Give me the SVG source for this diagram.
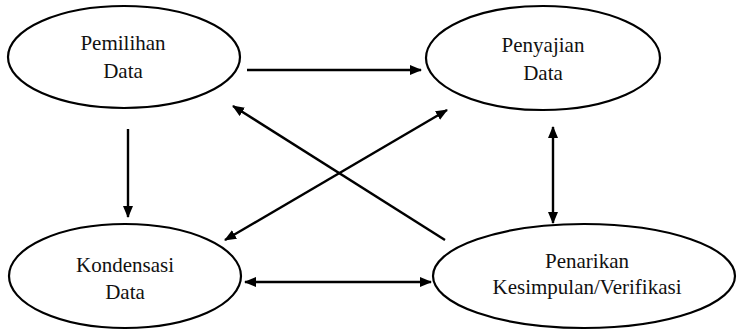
<svg xmlns="http://www.w3.org/2000/svg" width="737" height="331" viewBox="0 0 737 331">
<style>
.node ellipse{fill:#fff;stroke:#000;stroke-width:2.2}
.node text{font-size:21px;fill:#111;text-anchor:middle}
.conn line{stroke:#000;stroke-width:2.4;fill:none}
</style>
<defs>
<marker id="ah" viewBox="0 0 12 10" markerWidth="12" markerHeight="10" refX="11" refY="5" orient="auto-start-reverse" markerUnits="userSpaceOnUse">
<path d="M0,0 L12,5 L0,10 z" fill="#000"/>
</marker>
</defs>
<rect width="737" height="331" fill="#fff"/>
<g font-family="Liberation Serif, Times New Roman, serif">
<g id="pemilihan" class="node">
<ellipse cx="124" cy="57" rx="116" ry="51"/>
<text x="123" y="50">Pemilihan</text>
<text x="123" y="78">Data</text>
</g>
<g id="penyajian" class="node">
<ellipse cx="543" cy="58" rx="117" ry="52"/>
<text x="543" y="52">Penyajian</text>
<text x="543" y="80">Data</text>
</g>
<g id="kondensasi" class="node">
<ellipse cx="125" cy="276" rx="116" ry="52"/>
<text x="125" y="272">Kondensasi</text>
<text x="125" y="299">Data</text>
</g>
<g id="penarikan" class="node">
<ellipse cx="584" cy="276" rx="151" ry="52"/>
<text x="587" y="268">Penarikan</text>
<text x="587" y="294">Kesimpulan/Verifikasi</text>
</g>
</g>
<g id="connectors" class="conn">
<line x1="247" y1="70" x2="421" y2="70" marker-end="url(#ah)"/>
<line x1="128" y1="129" x2="128" y2="217" marker-end="url(#ah)"/>
<line x1="445" y1="240" x2="233" y2="106" marker-end="url(#ah)"/>
<line x1="225" y1="240" x2="447" y2="110" marker-start="url(#ah)" marker-end="url(#ah)"/>
<line x1="553" y1="127" x2="553" y2="223" marker-start="url(#ah)" marker-end="url(#ah)"/>
<line x1="245" y1="282" x2="431" y2="282" marker-start="url(#ah)" marker-end="url(#ah)"/>
</g>
</svg>
